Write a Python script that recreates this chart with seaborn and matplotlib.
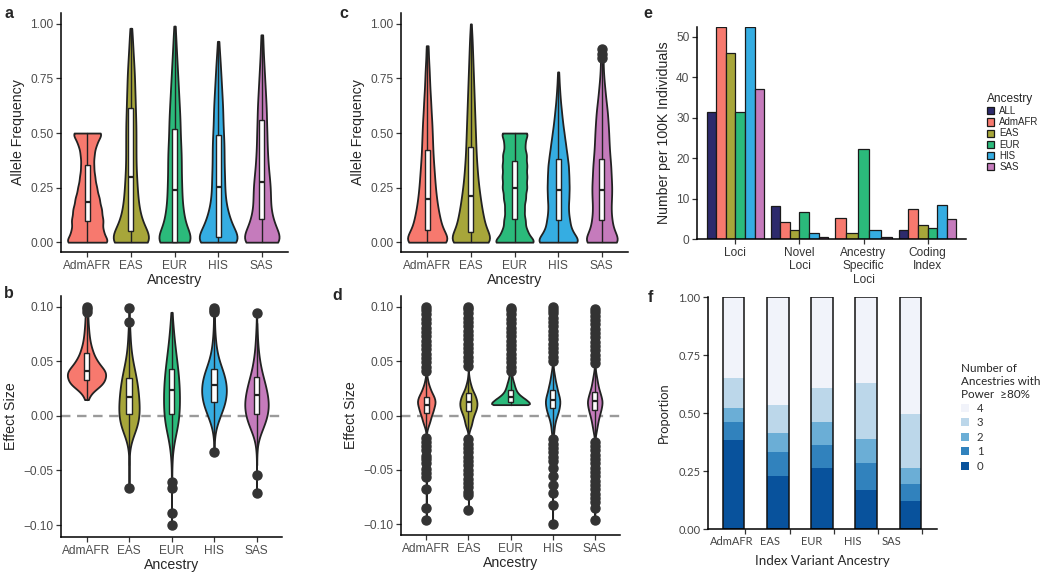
import numpy as np
import pandas as pd
import matplotlib
matplotlib.use("Agg")
import matplotlib.pyplot as plt
import seaborn as sns

sns.set_theme(style="ticks")
plt.rcParams["font.family"] = ["Liberation Sans", "DejaVu Sans"]

# ---------------- data ----------------
ancestry = ["AdmAFR", "EAS", "EUR", "HIS", "SAS"]
anc_colors = {"ALL": "#2D2A6C", "AdmAFR": "#F7796E", "EAS": "#A7A63A",
              "EUR": "#2BBA7B", "HIS": "#35ADE2", "SAS": "#C57BBC"}

# a / c : allele frequency, relative counts on a 0.05 grid
af_grid = [0.00, 0.05, 0.10, 0.15, 0.20, 0.25, 0.30, 0.35, 0.40, 0.45, 0.50,
           0.55, 0.60, 0.65, 0.70, 0.75, 0.80, 0.85, 0.90, 0.95, 1.00]
a_counts = {
    "AdmAFR": [60, 41, 42, 38, 32, 25, 20, 17, 18, 24, 42, 0, 0, 0, 0, 0, 0, 0, 0, 0, 0],
    "EAS":    [46, 23, 17, 13, 11, 10, 9, 8, 8, 8, 8, 8, 7, 7, 6, 6, 5, 4, 3, 2, 0],
    "EUR":    [44, 22, 18, 15, 13, 13, 12, 12, 12, 11, 10, 10, 9, 8, 7, 6, 5, 4, 3, 2, 0],
    "HIS":    [48, 27, 21, 15, 12, 11, 11, 10, 10, 10, 9, 8, 8, 7, 6, 5, 4, 3, 1, 0, 0],
    "SAS":    [44, 26, 20, 15, 15, 15, 13, 11, 10, 9, 9, 8, 8, 7, 6, 5, 4, 3, 2, 1, 0],
}
a_extra = {"AdmAFR": [], "EAS": [0.98], "EUR": [0.99], "HIS": [0.92], "SAS": [0.95]}
# whisker low, q1, median, q3, whisker high
a_box = {"AdmAFR": [0, 0.098, 0.186, 0.354, 0.50], "EAS": [0, 0.053, 0.30, 0.614, 0.98],
         "EUR": [0, 0.003, 0.24, 0.518, 0.99], "HIS": [0, 0.023, 0.255, 0.49, 0.92],
         "SAS": [0, 0.107, 0.278, 0.56, 0.95]}

c_counts = {
    "AdmAFR": [70, 40, 34, 28, 24, 21, 19, 17, 15, 14, 13, 12, 10, 9, 7, 6, 5, 3, 2, 0, 0],
    "EAS":    [70, 40, 35, 29, 25, 21, 18, 16, 14, 13, 12, 11, 10, 9, 8, 7, 6, 5, 4, 3, 1],
    "EUR":    [65, 37, 32, 29, 33, 37, 37, 37, 36, 30, 42, 0, 0, 0, 0, 0, 0, 0, 0, 0, 0],
    "HIS":    [66, 36, 31, 27, 29, 30, 29, 28, 24, 20, 16, 12, 9, 6, 4, 2, 0, 0, 0, 0, 0],
    "SAS":    [60, 34, 29, 26, 28, 29, 27, 26, 23, 21, 20, 18, 16, 12, 9, 6, 4, 2, 0, 0, 0],
}
c_extra = {"AdmAFR": [0.90], "EAS": [], "EUR": [], "HIS": [0.78], "SAS": [0.842, 0.862, 0.885]}
c_box = {"AdmAFR": [0, 0.056, 0.20, 0.423, 0.90], "EAS": [0, 0.046, 0.212, 0.434, 1.0],
         "EUR": [0, 0.107, 0.25, 0.372, 0.50], "HIS": [0, 0.10, 0.24, 0.38, 0.78],
         "SAS": [0, 0.102, 0.24, 0.382, 0.82]}

# b : effect size, 0.01 grid
b_grid = [-0.06, -0.05, -0.04, -0.03, -0.02, -0.01, 0.00, 0.01, 0.02, 0.03,
          0.04, 0.05, 0.06, 0.07, 0.08, 0.09]
b_counts = {
    "AdmAFR": [0, 0, 0, 0, 0, 0, 0, 0, 10, 70, 80, 40, 22, 12, 8, 5],
    "EAS":    [0, 0, 1, 3, 24, 60, 75, 75, 69, 60, 45, 27, 15, 9, 6, 0],
    "EUR":    [0, 0, 3, 9, 21, 42, 51, 54, 54, 51, 45, 36, 27, 18, 12, 6],
    "HIS":    [0, 0, 0, 0, 2, 12, 35, 60, 72, 70, 54, 30, 15, 8, 4, 2],
    "SAS":    [0, 0, 0, 2, 12, 40, 62, 70, 62, 48, 30, 18, 10, 6, 3, 0],
}
b_extra = {"AdmAFR": [0.015, 0.095, 0.098, 0.100],
           "EAS": [-0.066, 0.086, 0.099],
           "EUR": [-0.100, -0.089, -0.066, -0.061, 0.095],
           "HIS": [-0.033, 0.095, 0.097, 0.099],
           "SAS": [-0.071, -0.054, 0.094]}
b_box = {"AdmAFR": [0.015, 0.0326, 0.041, 0.058, 0.092], "EAS": [-0.045, 0.002, 0.0173, 0.0347, 0.082],
         "EUR": [-0.058, 0.002, 0.024, 0.0427, 0.095], "HIS": [-0.025, 0.0127, 0.028, 0.0435, 0.09],
         "SAS": [-0.045, 0.002, 0.019, 0.0357, 0.085]}

# d : effect size, 0.0025 grid from -0.02 to 0.0475
d_grid = [-0.0200, -0.0175, -0.0150, -0.0125, -0.0100, -0.0075, -0.0050, -0.0025,
          0.0000, 0.0025, 0.0050, 0.0075, 0.0100, 0.0125, 0.0150, 0.0175, 0.0200,
          0.0225, 0.0250, 0.0275, 0.0300, 0.0325, 0.0350, 0.0375, 0.0400, 0.0425,
          0.0450, 0.0475]
d_counts = {
    "AdmAFR": [0, 0, 20, 40, 80, 120, 160, 180, 220, 260, 300, 320, 360, 380, 360, 320,
               260, 200, 160, 120, 80, 60, 40, 20, 0, 0, 0, 0],
    "EAS":    [0, 0, 40, 80, 140, 180, 200, 240, 280, 340, 400, 440, 460, 460, 420, 380,
               320, 240, 180, 140, 100, 60, 40, 20, 0, 0, 0, 0],
    "EUR":    [0, 0, 0, 0, 0, 0, 0, 0, 0, 0, 0, 0, 950, 820, 680, 500,
               360, 270, 220, 180, 150, 110, 80, 60, 20, 0, 0, 0],
    "HIS":    [20, 40, 60, 60, 80, 100, 120, 160, 200, 240, 280, 300, 320, 340, 320, 300,
               260, 220, 200, 180, 140, 120, 100, 80, 60, 40, 20, 20],
    "SAS":    [20, 40, 60, 80, 100, 120, 140, 160, 200, 220, 260, 280, 300, 320, 300, 260,
               240, 200, 160, 140, 120, 100, 80, 60, 40, 20, 20, 0],
}
d_extra = {
    "AdmAFR": [0.041, 0.045, 0.049, 0.053, 0.057, 0.061, 0.065, 0.069, 0.073, 0.077, 0.081,
               0.085, 0.089, 0.093, 0.097, 0.100, -0.021, -0.024, -0.028, -0.032, -0.037,
               -0.040, -0.044, -0.049, -0.053, -0.057, -0.068, -0.085, -0.096],
    "EAS": [0.046, 0.050, 0.054, 0.058, 0.062, 0.066, 0.070, 0.074, 0.078, 0.082, 0.086,
            0.090, 0.094, 0.098, 0.100, -0.022, -0.026, -0.030, -0.034, -0.038, -0.042,
            -0.046, -0.050, -0.054, -0.058, -0.062, -0.066, -0.070, -0.073, -0.087],
    "EUR": [0.041, 0.045, 0.049, 0.053, 0.057, 0.061, 0.065, 0.069, 0.073, 0.077, 0.081,
            0.085, 0.089, 0.093, 0.097, 0.099],
    "HIS": [0.050, 0.054, 0.058, 0.062, 0.066, 0.070, 0.074, 0.078, 0.082, 0.086, 0.090,
            0.094, 0.097, 0.100, -0.022, -0.026, -0.030, -0.034, -0.038, -0.042, -0.048,
            -0.056, -0.064, -0.071, -0.082, -0.100],
    "SAS": [0.048, 0.052, 0.056, 0.060, 0.064, 0.068, 0.072, 0.076, 0.080, 0.084, 0.088,
            0.092, 0.095, 0.098, -0.024, -0.028, -0.032, -0.036, -0.040, -0.044, -0.048,
            -0.052, -0.056, -0.060, -0.064, -0.068, -0.072, -0.076, -0.080, -0.085, -0.096],
}
d_box = {"AdmAFR": [-0.020, 0.0022, 0.0098, 0.0174, 0.040], "EAS": [-0.021, 0.0037, 0.0125, 0.0205, 0.045],
         "EUR": [0.010, 0.0128, 0.0174, 0.0236, 0.039], "HIS": [-0.020, 0.0068, 0.0144, 0.0236, 0.048],
         "SAS": [-0.022, 0.0052, 0.0129, 0.022, 0.046]}

# e : loci per 100K individuals
e_categories = ["Loci", "Novel\nLoci", "Ancestry\nSpecific\nLoci", "Coding\nIndex"]
e_groups = ["ALL", "AdmAFR", "EAS", "EUR", "HIS", "SAS"]
e_loci = [31.3, 52.4, 45.9, 31.3, 52.4, 37.0]
e_novel = [8.2, 4.1, 2.3, 6.6, 1.5, 0.5]
e_coding = [2.2, 7.4, 3.5, 2.6, 8.5, 4.9]
e_specific = [5.3, 1.6, 22.3, 2.3, 0.5]   # no ALL bar

# f : proportion by number of ancestries with power >= 80%
f_levels = ["4", "3", "2", "1", "0"]
f_colors = {"4": "#F1F3FA", "3": "#BCD7EA", "2": "#6BAED6", "1": "#3182BD", "0": "#08529C"}
f_props = {"0": [0.385, 0.230, 0.263, 0.167, 0.122],
           "1": [0.076, 0.100, 0.099, 0.117, 0.071],
           "2": [0.061, 0.084, 0.098, 0.104, 0.070],
           "3": [0.129, 0.122, 0.148, 0.241, 0.234],
           "4": [0.349, 0.464, 0.392, 0.371, 0.503]}

# ---------------- figure ----------------
fig = plt.figure(figsize=(10.5, 5.79), dpi=100)
W, H = 1050, 579


def px_axes(l, t, r, b):
    return fig.add_axes([l / W, 1 - b / H, (r - l) / W, (b - t) / H])


TICK_C = "#4D4D4D"


def style(ax):
    sns.despine(ax=ax)
    for s in ("left", "bottom"):
        ax.spines[s].set_linewidth(1.1)
        ax.spines[s].set_color("black")
    ax.tick_params(length=3.5, width=0.9, color="#333333", labelcolor=TICK_C,
                   labelsize=8.6, pad=2)


def frame(grid, counts, extra):
    parts = []
    for anc in ancestry:
        vals = np.concatenate([np.repeat(grid, counts[anc]), extra[anc]])
        parts.append(pd.DataFrame({"Ancestry": anc, "value": vals}))
    return pd.concat(parts, ignore_index=True)


def violin_panel(ax, grid, counts, extra, box, bw, ylabel, ylim, yticks, ticklabels, zero=False):
    df = frame(grid, counts, extra)
    if zero:
        ax.axhline(0, color="#9A9A9A", lw=1.7, ls=(0, (4, 2.8)), zorder=0.5)
    sns.violinplot(data=df, x="Ancestry", y="value", hue="Ancestry", order=ancestry,
                   hue_order=ancestry, palette=anc_colors, saturation=1, cut=0,
                   inner=None, width=0.9, density_norm="area", common_norm=True,
                   bw_adjust=bw, linewidth=1.3, linecolor="#222222", legend=False, ax=ax)
    stats = []
    for anc in ancestry:
        lo, q1, med, q3, hi = box[anc]
        stats.append(dict(whislo=lo, q1=q1, med=med, q3=q3, whishi=hi,
                          fliers=[v for v in extra[anc] if v < lo or v > hi]))
    ax.bxp(stats, positions=range(len(ancestry)), widths=0.12, patch_artist=True,
           showcaps=False, manage_ticks=False, zorder=3,
           boxprops=dict(facecolor="white", edgecolor="#222222", linewidth=1.0),
           medianprops=dict(color="#222222", linewidth=1.6),
           whiskerprops=dict(color="#222222", linewidth=1.0),
           flierprops=dict(marker="o", markerfacecolor="#333333",
                           markeredgecolor="#333333", markersize=6.5, linestyle="none"))
    ax.set_xlim(-0.6, 4.6)
    ax.set_ylim(*ylim)
    ax.set_yticks(yticks, ticklabels)
    ax.set_xlabel("Ancestry", fontsize=10.2, labelpad=1)
    ax.set_ylabel(ylabel, fontsize=10.2)
    style(ax)


af_ticks = [0, 0.25, 0.5, 0.75, 1.0]
af_labels = ["0.00", "0.25", "0.50", "0.75", "1.00"]
es_ticks = [-0.10, -0.05, 0, 0.05, 0.10]
es_labels = ["\u22120.10", "\u22120.05", "0.00", "0.05", "0.10"]

ax_a = px_axes(61, 13, 288, 252)
violin_panel(ax_a, af_grid, a_counts, a_extra, a_box, 0.5, "Allele Frequency",
             (-0.045, 1.05), af_ticks, af_labels)
ax_c = px_axes(401, 13, 628, 252)
violin_panel(ax_c, af_grid, c_counts, c_extra, c_box, 0.5, "Allele Frequency",
             (-0.045, 1.05), af_ticks, af_labels)
ax_b = px_axes(61, 296, 282, 537)
violin_panel(ax_b, b_grid, b_counts, b_extra, b_box, 1.1, "Effect Size",
             (-0.111, 0.11), es_ticks, es_labels, zero=True)
ax_d = px_axes(401, 296, 620, 535)
violin_panel(ax_d, d_grid, d_counts, d_extra, d_box, 1.0, "Effect Size",
             (-0.11, 0.11), es_ticks, es_labels, zero=True)

# ---- panel e ----
ax_e = px_axes(697, 27, 966, 239)
rows = []
for cat, vals in zip([e_categories[0], e_categories[1], e_categories[3]], [e_loci, e_novel, e_coding]):
    for g, v in zip(e_groups, vals):
        rows.append((cat, g, v))
df_e = pd.DataFrame(rows, columns=["Category", "Ancestry", "Number"])
df_es = pd.DataFrame({"Category": e_categories[2], "Ancestry": ancestry, "Number": e_specific})
sns.barplot(data=df_e, x="Category", y="Number", hue="Ancestry", order=e_categories,
            hue_order=e_groups, palette=anc_colors, saturation=1, width=0.9, gap=0,
            errorbar=None, edgecolor="#1A1A1A", linewidth=0.9, ax=ax_e)
handles, labels = ax_e.get_legend_handles_labels()
sns.barplot(data=df_es, x="Category", y="Number", hue="Ancestry", order=e_categories,
            hue_order=ancestry, palette=anc_colors, saturation=1, width=0.9, gap=0,
            errorbar=None, edgecolor="#1A1A1A", linewidth=0.9, legend=False, ax=ax_e)
ax_e.legend(handles, labels, title="Ancestry", loc="upper left", bbox_to_anchor=(987 / W, 1 - 93 / H),
            bbox_transform=fig.transFigure, frameon=False, fontsize=7, title_fontsize=8.6,
            handlelength=0.75, handleheight=0.75, handletextpad=0.5, labelspacing=0.12,
            borderpad=0, borderaxespad=0)
ax_e.get_legend()._legend_box.align = "left"
ax_e.set_xlim(-0.6, 3.6)
ax_e.set_ylim(0, 52.4)
ax_e.set_yticks([0, 10, 20, 30, 40, 50])
ax_e.set_xlabel("")
ax_e.set_ylabel("Number per 100K Individuals", fontsize=10.2)
style(ax_e)
ax_e.tick_params(axis="x", labelcolor="#333333")

# ---- panel f ----
ax_f = px_axes(708, 297, 937, 529)
frows = []
for lev in f_levels:
    for anc, p in zip(ancestry, f_props[lev]):
        frows.append((anc, lev, p))
df_f = pd.DataFrame(frows, columns=["Ancestry", "Power", "Proportion"])
sns.histplot(data=df_f, x="Ancestry", hue="Power", weights="Proportion", multiple="stack",
             discrete=True, shrink=0.49, hue_order=f_levels, palette=f_colors, alpha=1,
             linewidth=0, ax=ax_f)
sns.histplot(data=df_f, x="Ancestry", weights="Proportion", discrete=True, shrink=0.49,
             fill=False, color="#111111", linewidth=1.1, ax=ax_f)
ffont = ["Lato", "DejaVu Sans"]
sns.move_legend(ax_f, "upper left", bbox_to_anchor=(1.08, 0.74), frameon=False,
                title="Number of\nAncestries with\nPower  \u226580%", fontsize=8.2,
                title_fontsize=8.4, handlelength=0.7, handleheight=0.7, handletextpad=0.7,
                labelspacing=0.3, borderpad=0)
leg = ax_f.get_legend()
leg._legend_box.align = "left"
leg.get_title().set_family(ffont)
for t in leg.get_texts():
    t.set_family(ffont)
    t.set_color("#333333")
ax_f.set_xlim(-0.58, 4.6)
ax_f.set_ylim(0, 1)
ax_f.set_yticks([0, 0.25, 0.5, 0.75, 1.0], ["0.00", "0.25", "0.50", "0.75", "1.00"],
                family=ffont)
ax_f.set_xticks([-0.05, 0.83, 1.76, 2.69, 3.57], ancestry, family=ffont)
ax_f.set_xticks([0.25, 1.27, 2.27, 3.27, 4.26], minor=True)
ax_f.set_xlabel("Index Variant Ancestry", fontsize=9.6, family=ffont, labelpad=6)
ax_f.set_ylabel("Proportion", fontsize=9.3, family=ffont, labelpad=6)
style(ax_f)
ax_f.tick_params(axis="x", which="major", length=0, labelsize=8.0, labelcolor="#444444", pad=5)
ax_f.tick_params(axis="x", which="minor", length=3.5, width=0.9, color="#333333")
ax_f.tick_params(axis="y", labelsize=8.0, labelcolor="#444444")

# ---- panel letters ----
for letter, x, y in [("a", 9, 14), ("b", 9, 294), ("c", 344, 14), ("d", 337, 295),
                     ("e", 648, 14), ("f", 650, 297)]:
    fig.text(x / W, 1 - y / H, letter, fontsize=11.5, fontweight="bold",
             ha="center", va="center")

fig.savefig("out.png", dpi=100)
